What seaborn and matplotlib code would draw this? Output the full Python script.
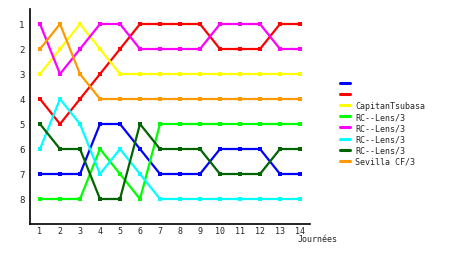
import matplotlib
matplotlib.use("Agg")
import matplotlib.pyplot as plt
import seaborn as sns
import pandas as pd

journees = list(range(1, 15))
labels = ["", "", "CapitanTsubasa", "RC--Lens/3", "RC--Lens/3", "RC--Lens/3", "RC--Lens/3", "Sevilla CF/3"]
colors = ["#0000ff", "#ff0000", "#ffff00", "#00ff00", "#ff00ff", "#00ffff", "#006400", "#ff9900"]
s_blue = [7, 7, 7, 5, 5, 6, 7, 7, 7, 6, 6, 6, 7, 7]
s_red = [4, 5, 4, 3, 2, 1, 1, 1, 1, 2, 2, 2, 1, 1]
s_yellow = [3, 2, 1, 2, 3, 3, 3, 3, 3, 3, 3, 3, 3, 3]
s_lime = [8, 8, 8, 6, 7, 8, 5, 5, 5, 5, 5, 5, 5, 5]
s_magenta = [1, 3, 2, 1, 1, 2, 2, 2, 2, 1, 1, 1, 2, 2]
s_cyan = [6, 4, 5, 7, 6, 7, 8, 8, 8, 8, 8, 8, 8, 8]
s_dkgreen = [5, 6, 6, 8, 8, 5, 6, 6, 6, 7, 7, 7, 6, 6]
s_orange = [2, 1, 3, 4, 4, 4, 4, 4, 4, 4, 4, 4, 4, 4]
series = [s_blue, s_red, s_yellow, s_lime, s_magenta, s_cyan, s_dkgreen, s_orange]

rows = []
for i, s in enumerate(series):
    for x, y in zip(journees, s):
        rows.append({"Journee": x, "Rang": y, "serie": i})
df = pd.DataFrame(rows)

sns.set_style("white")
plt.rcParams['font.family'] = ['DejaVu Sans Mono']

fig = plt.figure(figsize=(4.6, 2.55), dpi=100)
ax = fig.add_axes([30/460, 30/255, 280/460, 215/255])
sns.lineplot(data=df, x="Journee", y="Rang", hue="serie", palette=colors,
             marker="s", markersize=3, markeredgewidth=0, linewidth=1.6,
             ax=ax, legend=False)

ax.set_xlim(0.5, 14.5)
ax.set_ylim(9.0, 0.4)
ax.set_xticks(journees)
ax.set_xticklabels([str(j) for j in journees], fontsize=6)
ax.set_yticks(range(1, 9))
ax.set_yticklabels([str(r) for r in range(1, 9)], fontsize=6.5)
ax.tick_params(axis="x", length=0, pad=1.5)
ax.tick_params(axis="y", length=0, pad=4)
for sp in ["top", "right"]:
    ax.spines[sp].set_visible(False)
for sp in ["left", "bottom"]:
    ax.spines[sp].set_color("black")
    ax.spines[sp].set_linewidth(1.2)
ax.set_xlabel("")
ax.set_ylabel("")
fig.text(318/460, 1 - 240/255, "Journées", fontsize=6, ha="center", va="center")

from matplotlib.lines import Line2D
handles = [Line2D([0], [0], color=c, linewidth=2.2) for c in colors]
fig.legend(handles, labels, loc="upper left", bbox_to_anchor=(340/460, 1 - 80/255),
           frameon=False, fontsize=6, handlelength=1.2, handletextpad=0.6,
           labelspacing=0.25, borderpad=0, borderaxespad=0)

fig.savefig("out.png", dpi=100)
